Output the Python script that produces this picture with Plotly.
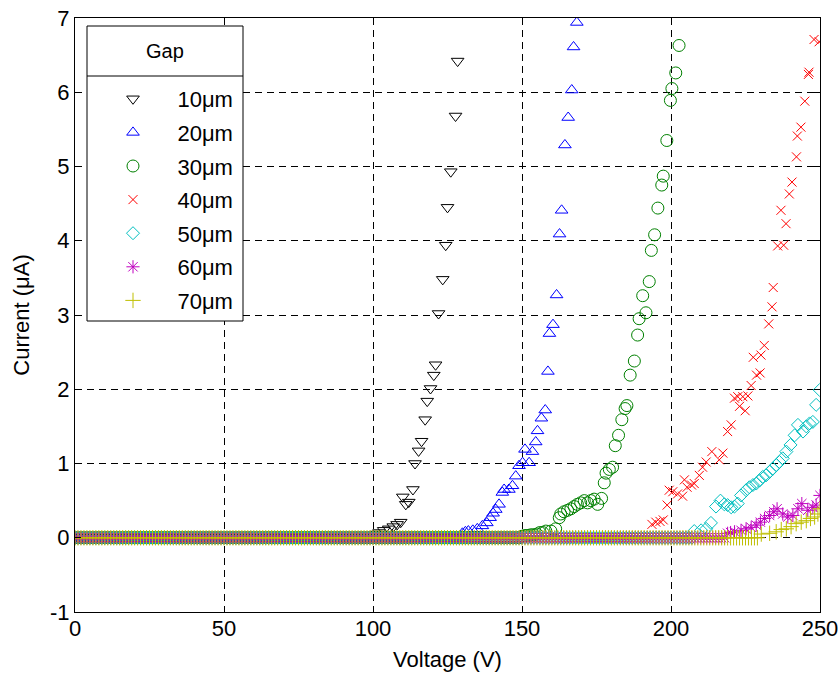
import plotly.graph_objects as go

# ---------------- data ----------------
labels = ["10μm", "20μm", "30μm", "40μm", "50μm", "60μm", "70μm"]

# flat (zero-current) part of each sweep, 1 V steps
base_end = [100, 129, 149, 192, 207, 218, 229]
base_current = 0.0

v10 = [101, 102, 103.6, 105.3, 106.8, 108.1, 109.3, 110.0, 111.0, 112.0, 113.4, 114.1,
       115.3, 116.3, 117.5, 118.2, 119.3, 120.4, 121.0, 122.0, 123.4, 124.4, 125.0,
       126.1, 127.7, 128.4]
i10 = [0.05, 0.07, 0.10, 0.12, 0.15, 0.18, 0.21, 0.55, 0.45, 0.48, 0.65, 1.00,
       1.17, 1.30, 1.59, 1.84, 2.01, 2.19, 2.33, 3.02, 3.48, 3.94, 4.45,
       4.93, 5.68, 6.42]

v20 = [130, 131, 132, 133.5, 135, 136.7, 138.2, 139.3, 140.3, 141.2, 142.3, 143.4,
       144.0, 145.6, 146.8, 147.9, 149.0, 150.2, 151.0, 152.4, 153.5, 154.6, 155.2,
       156.5, 157.8, 158.7, 159.2, 160.4, 161.6, 162.6, 163.3, 164.4, 165.5, 166.7,
       167.3, 168.4]
i20 = [0.06, 0.08, 0.09, 0.10, 0.12, 0.16, 0.20, 0.27, 0.33, 0.38, 0.45, 0.61,
       0.65, 0.65, 0.70, 0.83, 0.97, 1.01, 1.19, 1.01, 1.16, 1.29, 1.44,
       1.61, 1.72, 2.24, 2.75, 2.87, 3.27, 4.09, 4.41, 5.29, 5.66, 6.03,
       6.61, 6.94]

v30 = [150, 151, 152, 153, 154, 155, 156, 157, 158, 159.7, 161.3, 162.5, 163.0,
       164.1, 165.3, 166.4, 167.5, 168.6, 169.7, 170.9, 172.0, 173.1, 174.2, 175.4,
       176.7, 177.6, 178.2, 179.3, 180.4, 181.3, 182.4, 183.5, 184.6, 185.2, 186.3,
       187.7, 188.8, 189.3, 190.5, 191.6, 192.7, 193.4, 194.5, 195.6, 196.9, 197.4,
       198.6, 199.8, 200.3, 201.6, 202.7]
i30 = [0.02, 0.03, 0.03, 0.04, 0.04, 0.05, 0.07, 0.07, 0.09, 0.09, 0.12, 0.27, 0.32,
       0.35, 0.37, 0.39, 0.42, 0.45, 0.47, 0.50, 0.47, 0.50, 0.52, 0.45,
       0.53, 0.74, 0.87, 0.92, 0.95, 1.24, 1.38, 1.59, 1.74, 1.78, 2.19,
       2.38, 2.73, 2.95, 3.26, 3.03, 3.45, 3.87, 4.08, 4.44, 4.75, 4.87,
       5.35, 5.89, 6.05, 6.26, 6.63]

v40 = [193.6, 194.9, 196.3, 197.4, 198.7, 199.4, 200.6, 202.2, 203.9, 204.5, 205.4,
       206.9, 207.8, 209.5, 210.6, 211.8, 213.7, 216.2, 217.4, 219.0, 220.2, 221.3,
       222.4, 223.0, 224.1, 224.9, 225.8, 226.9, 227.6, 228.7, 229.9, 230.2, 231.3,
       232.8, 233.9, 234.3, 235.8, 236.9, 237.8, 238.6, 239.7, 240.6, 242.1, 242.4,
       243.6, 244.9, 246.1, 246.3, 248.0, 249.7]
i40 = [0.18, 0.21, 0.22, 0.24, 0.44, 0.64, 0.62, 0.59, 0.56, 0.78, 0.68,
       0.71, 0.73, 0.84, 0.95, 1.02, 1.16, 1.05, 1.14, 1.43, 1.52, 1.88,
       1.90, 1.77, 1.90, 1.71, 1.91, 2.05, 2.43, 2.19, 2.22, 2.46, 2.59,
       2.88, 3.11, 3.37, 3.93, 4.41, 3.94, 4.23, 4.63, 4.79, 5.13, 5.41,
       5.53, 5.88, 6.24, 6.27, 6.71, 6.68]

v50 = [207.8, 210.1, 211.8, 213.4, 215.1, 216.6, 217.9, 219.0, 220.2, 221.3, 222.4,
       223.5, 225.2, 226.3, 227.5, 228.6, 229.7, 230.8, 231.9, 233.1, 234.2, 235.3,
       236.4, 237.5, 238.7, 240.1, 241.5, 242.6, 244.3, 245.4, 246.5, 247.6, 248.7,
       249.9]
i50 = [0.09, 0.10, 0.12, 0.20, 0.42, 0.50, 0.45, 0.44, 0.41, 0.42, 0.46,
       0.57, 0.64, 0.68, 0.71, 0.73, 0.77, 0.82, 0.84, 0.89, 0.93, 0.98,
       1.02, 1.07, 1.16, 1.25, 1.38, 1.52, 1.43, 1.50, 1.54, 1.56, 1.79,
       1.99]

v60 = [219.0, 220.0, 221.3, 223.5, 225.2, 226.9, 228.6, 230.0, 231.4, 233.1, 234.5,
       235.6, 237.5, 239.2, 240.9, 242.6, 243.9, 245.9, 247.6, 248.7, 250.0]
i60 = [0.06, 0.07, 0.08, 0.10, 0.12, 0.14, 0.17, 0.21, 0.26, 0.30, 0.35,
       0.39, 0.32, 0.28, 0.30, 0.39, 0.46, 0.37, 0.41, 0.44, 0.57]

v70 = [230.3, 233.1, 235.3, 237.0, 238.7, 240.3, 242.0, 243.7, 245.4, 246.8, 248.2,
       249.3, 250.0]
i70 = [0.05, 0.06, 0.08, 0.11, 0.12, 0.15, 0.19, 0.21, 0.23, 0.26, 0.28,
       0.32, 0.39]

x_ticks = [0, 50, 100, 150, 200, 250]
y_ticks = [-1, 0, 1, 2, 3, 4, 5, 6, 7]
y_tick_text = ["-1", "0", "1", "2", "3", "4", "5", "6", "7"]

# ---------------- styling ----------------
colors = ["#000000", "#0000FF", "#008000", "#FF0000", "#00BFBF", "#BF00BF", "#BFBF00"]
symbols = ["triangle-down-open", "triangle-up-open", "circle-open", "x-thin-open",
           "diamond-open", "asterisk-open", "cross-thin-open"]
sizes = [11, 11, 12, 9, 10, 11, 11]

rise_v = [v10, v20, v30, v40, v50, v60, v70]
rise_i = [i10, i20, i30, i40, i50, i60, i70]

FONT = "Arial, Liberation Sans, sans-serif"
W, H = 840, 673
L, R, T, B = 75, 20, 18, 61
PX0, PX1 = L, W - R          # plot area in page pixels
PY0, PY1 = T, H - B


def px(x):
    return (x - PX0) / (PX1 - PX0)


def py(y):
    return (PY1 - y) / (PY1 - PY0)


NB = "\u00a0" * 4

fig = go.Figure()
for k in range(len(labels)):
    vb = list(range(0, base_end[k] + 1))
    xs = vb + rise_v[k]
    ys = [base_current] * len(vb) + rise_i[k]
    fig.add_trace(go.Scatter(
        x=xs, y=ys, mode="markers", name=NB + labels[k], legendgroup=labels[k],
        marker=dict(symbol=symbols[k], size=sizes[k], color=colors[k],
                    line=dict(width=1, color=colors[k])),
    ))

axis_common = dict(
    showline=True, linecolor="black", linewidth=1, mirror="ticks",
    ticks="inside", ticklen=6, tickcolor="black", tickwidth=1,
    showgrid=True, gridcolor="black", gridwidth=1, griddash="7px,5px",
    zeroline=False, ticklabeloverflow="allow",
    tickfont=dict(family=FONT, size=22, color="black"),
)
fig.update_xaxes(range=[0, 250], tickvals=x_ticks, ticklabelstandoff=-3, **axis_common,
                 title=dict(text="Voltage (V)", font=dict(family=FONT, size=22, color="black"),
                            standoff=11))
fig.update_yaxes(range=[-1, 7], tickvals=y_ticks, ticktext=y_tick_text, **axis_common,
                 title=dict(text="Current (μA)", font=dict(family=FONT, size=22, color="black"),
                            standoff=14))

# legend frame (box + title separator) and title
fig.add_shape(type="rect", xref="paper", yref="paper",
              x0=px(87), x1=px(243), y0=py(321), y1=py(26),
              line=dict(color="black", width=1), fillcolor="white", layer="above")
fig.add_shape(type="line", xref="paper", yref="paper",
              x0=px(87), x1=px(243), y0=py(76), y1=py(76),
              line=dict(color="black", width=1), layer="above")
fig.add_annotation(xref="paper", yref="paper", x=px(165), y=py(51), text="Gap",
                   xanchor="center", yanchor="middle",
                   showarrow=False, font=dict(family=FONT, size=20, color="black"))

fig.update_layout(
    width=W, height=H,
    margin=dict(l=L, r=R, t=T, b=B, autoexpand=False),
    paper_bgcolor="white", plot_bgcolor="white",
    showlegend=True,
    legend=dict(
        x=px(113), y=py(78), xanchor="left", yanchor="top",
        bgcolor="rgba(0,0,0,0)", borderwidth=0,
        font=dict(family=FONT, size=22, color="black"),
        traceorder="grouped", tracegroupgap=2, itemwidth=30,
    ),
)

fig.write_html("out.html", config={"displayModeBar": False},
               post_script="document.body.style.margin='0';")
